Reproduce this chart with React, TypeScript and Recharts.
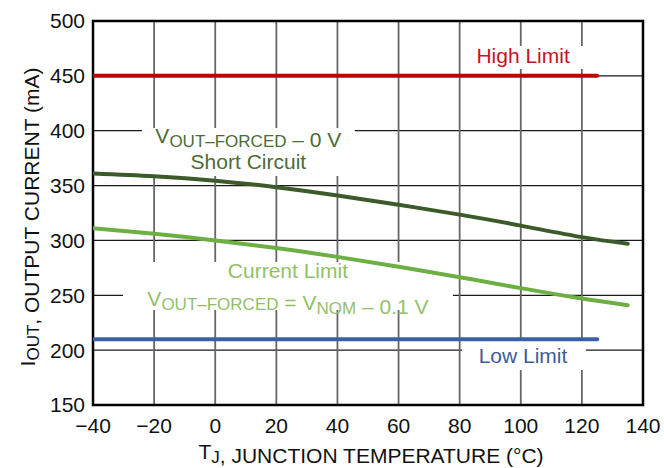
import React from 'react';
import { LineChart, Line, XAxis, YAxis, CartesianGrid, ReferenceArea } from 'recharts';

const temps = [-40, -20, 0, 20, 40, 60, 80, 100, 120, 135];
const shortCircuit = [361, 358.5, 354.5, 348.5, 341, 332.5, 323.5, 313.5, 303, 297];
const currentLimit = [311, 306, 300, 293, 285, 276, 266.5, 256.5, 247, 241];
const limitTemps = [-40, 125];
const highLimit = [450, 450];
const lowLimit = [210, 210];
const xTicks = [-40, -20, 0, 20, 40, 60, 80, 100, 120, 140];
const yTicks = [150, 200, 250, 300, 350, 400, 450, 500];

const curveData = temps.map((t, i) => ({ t, sc: shortCircuit[i], cl: currentLimit[i] }));
const limitData = limitTemps.map((t, i) => ({ t, hi: highLimit[i], lo: lowLimit[i] }));

const FONT = '"Liberation Sans", Arial, Helvetica, sans-serif';
const SUB = 17;

// white box label: lines drawn at baseline offsets from the box top
const boxLabel = (render: (cx: number, top: number) => React.ReactNode, dx = 0) => (props: any) => {
  const { x, y, width } = props.viewBox;
  return <g>{render(x + width / 2 + dx, y)}</g>;
};

const Sub = ({ children }: { children: React.ReactNode }) => (
  <>
    <tspan fontSize={SUB} dy={4}>{children}</tspan>
    <tspan dy={-4}></tspan>
  </>
);

const fmt = (v: number) => String(v).replace('-', '\u2212');

export default function App() {
  return (
    <div style={{ position: 'absolute', left: 0, top: 0, width: 664, height: 468, background: '#fff', fontFamily: FONT }}>
      <LineChart width={664} height={468} data={curveData} margin={{ top: 21, right: 21, bottom: 0, left: 0 }}>
        <CartesianGrid vertical={false} stroke="#1a1a1a" strokeWidth={1.3} />
        <CartesianGrid horizontal={false} stroke="#666" strokeWidth={1.8} />
        <XAxis
          type="number"
          dataKey="t"
          domain={[-40, 140]}
          ticks={xTicks}
          tickFormatter={fmt}
          axisLine={false}
          tickLine={false}
          tickSize={0}
          tickMargin={13}
          height={63}
          interval={0}
          allowDataOverflow
          tick={{ fill: '#111', fontSize: 21, fontFamily: FONT }}
          label={(p: any) => {
            const { x, y, width } = p.viewBox;
            return (
              <text x={x + width / 2 + 3} y={y + 54} textAnchor="middle" fill="#111" fontSize={21} fontFamily={FONT}>
                T<Sub>J</Sub>, JUNCTION TEMPERATURE (°C)
              </text>
            );
          }}
        />
        <YAxis
          type="number"
          domain={[150, 500]}
          ticks={yTicks}
          axisLine={false}
          tickLine={false}
          tickSize={0}
          tickMargin={8}
          width={93}
          interval={0}
          tick={{ fill: '#111', fontSize: 21, fontFamily: FONT }}
          label={(p: any) => {
            const { y, height } = p.viewBox;
            const cy = y + height / 2 + 4;
            return (
              <text x={35} y={cy} transform={`rotate(-90 35 ${cy})`} textAnchor="middle" fill="#111" fontSize={21} fontFamily={FONT}>
                I<Sub>OUT</Sub>, OUTPUT CURRENT (mA)
              </text>
            );
          }}
        />

        <ReferenceArea
          x1={83.4} x2={122.7} y1={456.2} y2={477.2}
          fill="#fff" fillOpacity={1} stroke="none"
          label={boxLabel((cx, top) => (
            <text x={cx} y={top + 17} textAnchor="middle" fill="#c8141e" fontSize={21} fontFamily={FONT}>High Limit</text>
          ), -7)}
        />
        <ReferenceArea
          x1={80.8} x2={121.3} y1={181.9} y2={208.3}
          fill="#fff" fillOpacity={1} stroke="none"
          label={boxLabel((cx, top) => (
            <text x={cx} y={top + 22} textAnchor="middle" fill="#3e5c9e" fontSize={21} fontFamily={FONT}>Low Limit</text>
          ), -1)}
        />
        <ReferenceArea
          x1={-24} x2={45.7} y1={358.7} y2={402.5}
          fill="#fff" fillOpacity={1} stroke="none"
          label={boxLabel((cx, top) => (
            <g fill="#4d6b34" fontSize={21} fontFamily={FONT}>
              <text x={cx} y={top + 15} textAnchor="middle">V<Sub>OUT–FORCED</Sub> – 0 V</text>
              <text x={cx} y={top + 41} textAnchor="middle">Short Circuit</text>
            </g>
          ))}
        />
        <ReferenceArea
          x1={-30.2} x2={77.8} y1={236.6} y2={280.3}
          fill="#fff" fillOpacity={1} stroke="none"
          label={boxLabel((cx, top) => (
            <g fill="#93bf68" fontSize={21} fontFamily={FONT}>
              <text x={cx} y={top + 16} textAnchor="middle">Current Limit</text>
              <text x={cx} y={top + 44} textAnchor="middle">V<Sub>OUT–FORCED</Sub> = V<Sub>NOM</Sub> – 0.1 V</text>
            </g>
          ))}
        />

        <Line data={limitData} dataKey="hi" stroke="#c00000" strokeWidth={4} strokeLinecap="round" dot={false} activeDot={false} isAnimationActive={false} />
        <Line data={limitData} dataKey="lo" stroke="#3c5fa5" strokeWidth={4} strokeLinecap="round" dot={false} activeDot={false} isAnimationActive={false} />
        <Line type="natural" dataKey="sc" stroke="#3c5a2a" strokeWidth={4} strokeLinecap="round" dot={false} activeDot={false} isAnimationActive={false} />
        <Line type="natural" dataKey="cl" stroke="#6cb043" strokeWidth={4} strokeLinecap="round" dot={false} activeDot={false} isAnimationActive={false} />

        <ReferenceArea x1={-40} x2={140} y1={150} y2={500} fill="none" stroke="#000" strokeWidth={2.5} />
      </LineChart>
    </div>
  );
}
